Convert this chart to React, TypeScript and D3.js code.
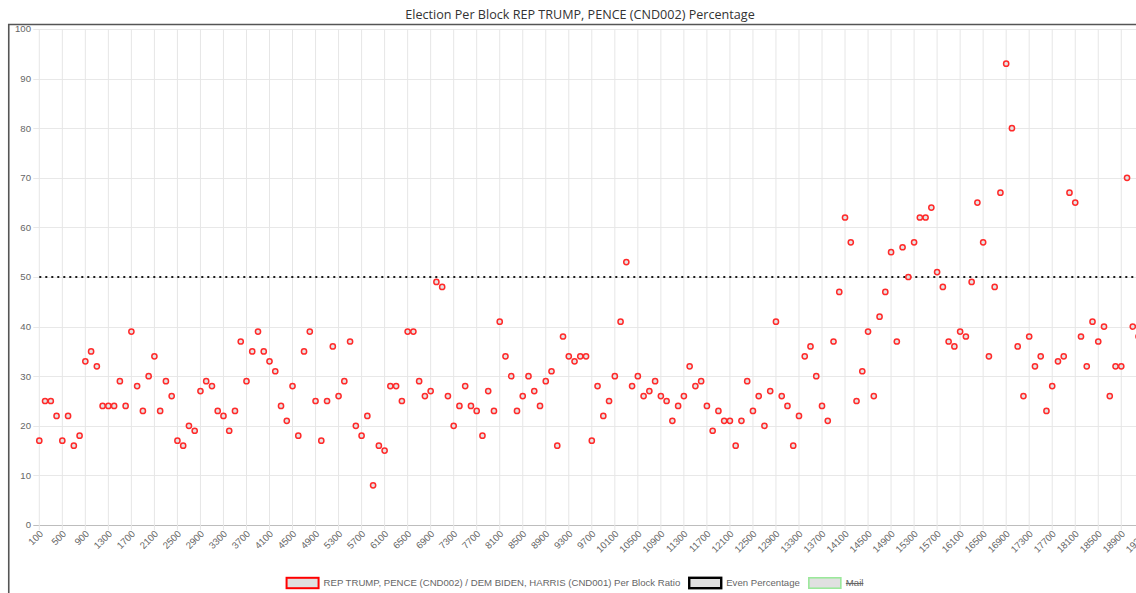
import React, { useEffect, useRef } from 'react';
import * as d3 from 'd3';

// block ids run 100, 200, ... 19300 (one category per block)
const blockIds: number[] = Array.from({ length: 193 }, (_, i) => (i + 1) * 100);

// REP / DEM per block ratio (last one is off screen)
const repRatio: number[] = [
  17, 25, 25, 22, 17, 22, 16, 18, 33, 35, 32, 24, 24, 24, 29, 24, 39, 28, 23, 30,
  34, 23, 29, 26, 17, 16, 20, 19, 27, 29, 28, 23, 22, 19, 23, 37, 29, 35, 39, 35,
  33, 31, 24, 21, 28, 18, 35, 39, 25, 17, 25, 36, 26, 29, 37, 20, 18, 22, 8, 16,
  15, 28, 28, 25, 39, 39, 29, 26, 27, 49, 48, 26, 20, 24, 28, 24, 23, 18, 27, 23,
  41, 34, 30, 23, 26, 30, 27, 24, 29, 31, 16, 38, 34, 33, 34, 34, 17, 28, 22, 25,
  30, 41, 53, 28, 30, 26, 27, 29, 26, 25, 21, 24, 26, 32, 28, 29, 24, 19, 23, 21,
  21, 16, 21, 29, 23, 26, 20, 27, 41, 26, 24, 16, 22, 34, 36, 30, 24, 21, 37, 47,
  62, 57, 25, 31, 39, 26, 42, 47, 55, 37, 56, 50, 57, 62, 62, 64, 51, 48, 37, 36,
  39, 38, 49, 65, 57, 34, 48, 67, 93, 80, 36, 26, 38, 32, 34, 23, 28, 33, 34, 67,
  65, 38, 32, 41, 37, 40, 26, 32, 32, 70, 40, 38, 35,
];

const evenPercentage = 50;
const yTicks = [0, 10, 20, 30, 40, 50, 60, 70, 80, 90, 100];

const titleText = 'Election Per Block REP TRUMP, PENCE (CND002) Percentage';

const legendItems = [
  { label: 'REP TRUMP, PENCE (CND002) / DEM BIDEN, HARRIS (CND001) Per Block Ratio', stroke: '#ff0000', width: 2, hidden: false },
  { label: 'Even Percentage', stroke: '#000000', width: 2.4, hidden: false },
  { label: 'Mail', stroke: '#9be89b', width: 1.6, hidden: true },
];

const FONT = '"Liberation Sans", Arial, Helvetica, sans-serif';

export default function App() {
  const svgRef = useRef<SVGSVGElement>(null);

  useEffect(() => {
    if (!svgRef.current) return;
    const svg = d3.select(svgRef.current);
    svg.selectAll('*').remove();

    const left = 39.3, right = 1144.3, top = 29, bottom = 525;

    const x = d3.scalePoint<number>().domain(blockIds).range([left, right]);
    const y = d3.scaleLinear().domain([0, 100]).range([bottom, top]);

    // canvas frame (top + left edges visible)
    svg.append('path')
      .attr('d', 'M8.75,600 V24.5 H1140')
      .attr('fill', 'none')
      .attr('stroke', '#555')
      .attr('stroke-width', 1.6);

    // title
    svg.append('text')
      .attr('x', 580)
      .attr('y', 19)
      .attr('text-anchor', 'middle')
      .attr('fill', '#333')
      .style('font-family', '"Open Sans", "Noto Sans", sans-serif')
      .style('font-size', '12.6px')
      .text(titleText);

    // horizontal grid
    svg.append('g')
      .selectAll('line')
      .data(yTicks)
      .join('line')
      .attr('x1', left - 6)
      .attr('x2', right)
      .attr('y1', d => Math.round(y(d)) + 0.5)
      .attr('y2', d => Math.round(y(d)) + 0.5)
      .attr('stroke', d => (d === 0 ? '#bdbdbd' : '#e8e8e8'))
      .attr('stroke-width', 1);

    // vertical grid on labelled ticks only (every 4th block)
    const labelled = blockIds.filter((_, i) => i % 4 === 0);
    svg.append('g')
      .selectAll('line')
      .data(labelled)
      .join('line')
      .attr('x1', d => x(d)!)
      .attr('x2', d => x(d)!)
      .attr('y1', top)
      .attr('y2', bottom + 5)
      .attr('stroke', '#e6e6e6')
      .attr('stroke-width', 1);

    // y tick labels
    svg.append('g')
      .selectAll('text')
      .data(yTicks)
      .join('text')
      .attr('x', 31)
      .attr('y', d => y(d))
      .attr('dy', '0.35em')
      .attr('text-anchor', 'end')
      .attr('fill', '#666')
      .style('font-family', FONT)
      .style('font-size', '9.6px')
      .text(d => d);

    // x tick labels, rotated 45deg
    svg.append('g')
      .selectAll('text')
      .data(labelled)
      .join('text')
      .attr('transform', d => `translate(${x(d)! + 2},${bottom + 7}) rotate(-45)`)
      .attr('dy', '0.35em')
      .attr('text-anchor', 'end')
      .attr('fill', '#666')
      .style('font-family', FONT)
      .style('font-size', '9.6px')
      .text(d => d);

    // even percentage dotted line
    const evenLine = d3.line<number>()
      .x(d => x(d)!)
      .y(() => y(evenPercentage));
    svg.append('path')
      .attr('d', evenLine(blockIds))
      .attr('fill', 'none')
      .attr('stroke', '#1a1a1a')
      .attr('stroke-width', 2)
      .attr('stroke-dasharray', '2,4');

    // per block ratio points
    svg.append('g')
      .selectAll('circle')
      .data(repRatio)
      .join('circle')
      .attr('cx', (_, i) => x(blockIds[i])!)
      .attr('cy', d => y(d))
      .attr('r', 2.6)
      .attr('fill', 'rgba(225,225,225,0.9)')
      .attr('stroke', '#ff2a2a')
      .attr('stroke-width', 1.5);

    // legend, measured and centred under the chart
    const legend = svg.append('g');
    const boxW = 32, boxGap = 5, itemGap = 9, ly = 583;
    const items = legendItems.map(item => {
      const g = legend.append('g');
      const t = g.append('text')
        .attr('y', ly)
        .attr('dy', '0.35em')
        .attr('fill', '#666')
        .style('font-family', FONT)
        .style('font-size', '9.6px')
        .text(item.label);
      const w = (t.node() as SVGTextElement).getComputedTextLength();
      return { item, g, t, w };
    });
    const total = d3.sum(items, d => boxW + boxGap + d.w) + itemGap * (items.length - 1);
    let cx = 575 - total / 2;
    items.forEach(({ item, g, t, w }) => {
      g.insert('rect', 'text')
        .attr('x', cx)
        .attr('y', ly - 5.2)
        .attr('width', boxW)
        .attr('height', 10.4)
        .attr('fill', '#e0e0e0')
        .attr('stroke', item.stroke)
        .attr('stroke-width', item.width);
      t.attr('x', cx + boxW + boxGap);
      if (item.hidden) {
        g.append('line')
          .attr('x1', cx + boxW + boxGap)
          .attr('x2', cx + boxW + boxGap + w)
          .attr('y1', ly + 0.5)
          .attr('y2', ly + 0.5)
          .attr('stroke', '#666')
          .attr('stroke-width', 1);
      }
      cx += boxW + boxGap + w + itemGap;
    });
  }, []);

  return (
    <svg
      ref={svgRef}
      width={1136}
      height={593}
      style={{ position: 'absolute', left: 0, top: 0, background: '#fff' }}
    />
  );
}
